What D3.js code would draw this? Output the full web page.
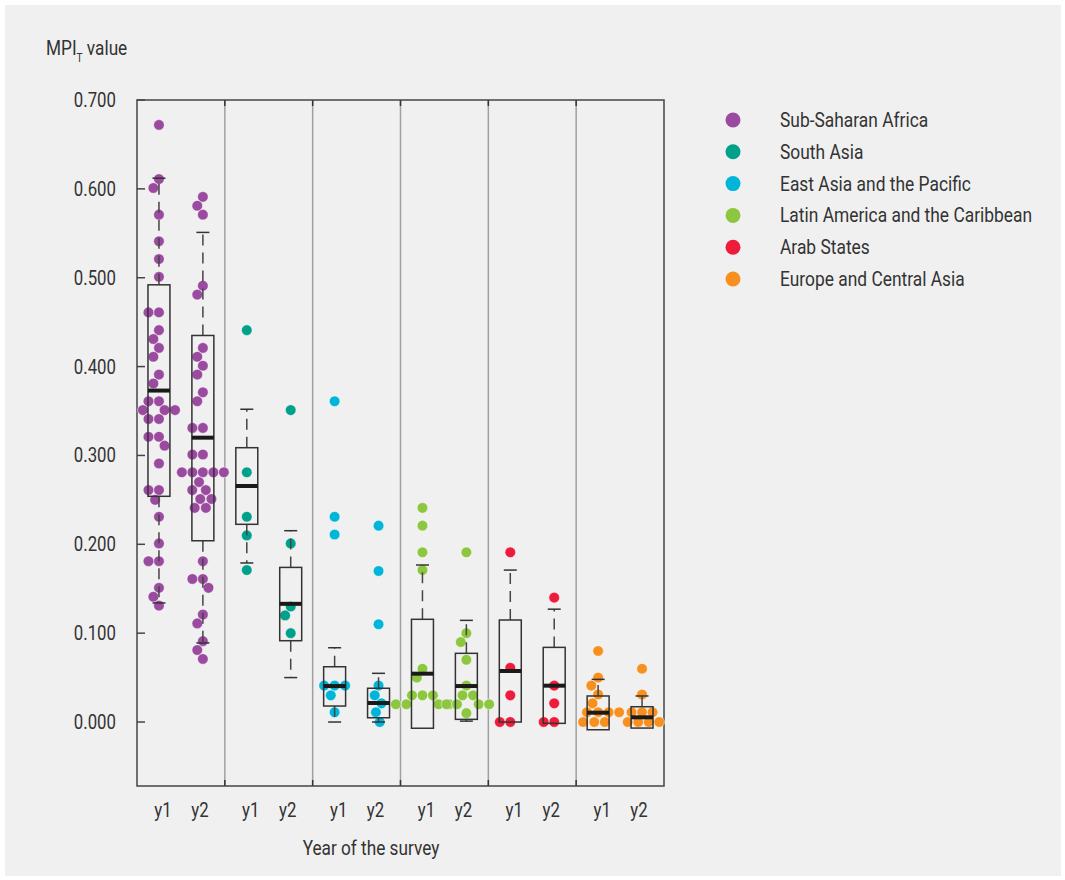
<!DOCTYPE html>
<html><head><meta charset="utf-8">
<script src="https://cdn.jsdelivr.net/npm/d3@7"></script>
<style>body{margin:0;background:#fff}</style>
</head><body><svg id="chart" width="1065" height="880"></svg>
<script>
// ---------------- DATA ----------------
const regions = ["Sub-Saharan Africa","South Asia","East Asia and the Pacific","Latin America and the Caribbean","Arab States","Europe and Central Asia"];
const regionColors = ["#9a4a9f","#00a08b","#00b6d8","#8dc63f","#ed1c3a","#f7901e"];
const surveys = ["y1","y2"];
const yTickValues = [0,0.1,0.2,0.3,0.4,0.5,0.6,0.7];

const ssaY1 = [0.672,0.611,0.601,0.571,0.541,0.521,0.501,0.461,0.461,0.441,0.431,0.421,0.411,0.391,0.381,0.361,0.361,0.351,0.351,0.351,0.341,0.341,0.321,0.321,0.311,0.291,0.261,0.261,0.250,0.231,0.201,0.181,0.181,0.151,0.141,0.131];
const ssaY2 = [0.591,0.581,0.571,0.491,0.481,0.421,0.411,0.401,0.391,0.371,0.361,0.331,0.331,0.301,0.301,0.281,0.281,0.281,0.281,0.281,0.270,0.261,0.261,0.251,0.251,0.241,0.241,0.181,0.161,0.161,0.151,0.121,0.111,0.091,0.081,0.071];
const saY1 = [0.441,0.281,0.231,0.210,0.171];
const saY2 = [0.351,0.201,0.130,0.120,0.100];
const eaY1 = [0.361,0.231,0.211,0.041,0.041,0.041,0.030,0.011];
const eaY2 = [0.221,0.170,0.110,0.041,0.030,0.021,0.011,0.000];
const lacY1 = [0.241,0.221,0.191,0.171,0.060,0.050,0.030,0.030,0.030,0.020,0.020,0.020,0.020];
const lacY2 = [0.191,0.100,0.090,0.070,0.041,0.030,0.030,0.020,0.020,0.020,0.020,0.010];
const arabY1 = [0.191,0.061,0.030,0.000,0.000];
const arabY2 = [0.140,0.041,0.021,0.000,0.000];
const ecaY1 = [0.080,0.050,0.041,0.031,0.021,0.011,0.011,0.011,0.011,0.000,0.000,0.000];
const ecaY2 = [0.060,0.031,0.011,0.011,0.011,0.000,0.000,0.000,0.000];

const groupPoints = [ssaY1,ssaY2,saY1,saY2,eaY1,eaY2,lacY1,lacY2,arabY1,arabY2,ecaY1,ecaY2];

// box statistics (12 groups, region-major, y1 then y2)
const boxLow    = [0.134,0.089,0.179,0.050,0.000,0.000,-0.007,0.001,0.000,-0.0015,-0.0087,-0.0068];
const boxQ1     = [0.254,0.204,0.2225,0.0915,0.018,0.0048,-0.007,0.003,0.000,-0.0015,-0.0087,-0.0068];
const boxMedian = [0.373,0.320,0.2656,0.133,0.0405,0.0214,0.0544,0.0405,0.0574,0.0409,0.0105,0.0053];
const boxQ3     = [0.492,0.435,0.3087,0.174,0.0622,0.038,0.1156,0.0773,0.1148,0.084,0.0293,0.0172];
const boxHigh   = [0.612,0.551,0.352,0.2153,0.0836,0.0548,0.1767,0.1144,0.171,0.127,0.048,0.0293];

// ---------------- FONT ----------------
function hasFont(name){
  const c=document.createElement('canvas').getContext('2d');
  const s='0123456789 Sub-Saharan Africa MWmw';
  c.font='20px monospace'; const a=c.measureText(s).width;
  c.font='20px "'+name+'", monospace'; const b=c.measureText(s).width;
  return Math.abs(a-b)>0.5;
}
let FONT = '"Liberation Sans Narrow"', SX = 1;
if(!hasFont("Liberation Sans Narrow")){ FONT = 'Roboto, "Liberation Sans", sans-serif'; SX = 0.84; }

// ---------------- LAYOUT ----------------
const svg = d3.select("#chart");
const X0 = 137, X1 = 664, Y0 = 100, Y1 = 786;
const textColor = "#333";

svg.append("rect").attr("x",5).attr("y",5).attr("width",1056).attr("height",871).attr("fill","#f0f0f0");

const keys = [];
regions.forEach((r,i)=>surveys.forEach(s=>keys.push(i+"|"+s)));
const x = d3.scaleBand().domain(keys).range([X0,X1]).padding(0);
const y = d3.scaleLinear().domain([-0.072,0.7]).range([Y1,Y0]);

function addText(parent, tx, ty, str, size, anchor, fill){
  const t = parent.append("text")
    .attr("transform","translate("+tx+","+ty+") scale("+SX+",1)")
    .attr("font-family",FONT).attr("font-size",size)
    .attr("text-anchor",anchor||"start").attr("fill",fill||textColor)
    .text(str);
  return t;
}

// separators between regions
const sepG = svg.append("g");
for(let i=1;i<regions.length;i++){
  const sx = x(i+"|y1");
  sepG.append("line").attr("x1",sx).attr("x2",sx).attr("y1",Y0).attr("y2",Y1)
    .attr("stroke","#a0a0a0").attr("stroke-width",1.5);
  sepG.append("line").attr("x1",sx).attr("x2",sx).attr("y1",Y1).attr("y2",Y1-6).attr("stroke","#333").attr("stroke-width",1.5);
  sepG.append("line").attr("x1",sx).attr("x2",sx).attr("y1",Y0).attr("y2",Y0+6).attr("stroke","#333").attr("stroke-width",1.5);
}

// frame
svg.append("rect").attr("x",X0).attr("y",Y0).attr("width",X1-X0).attr("height",Y1-Y0)
  .attr("fill","none").attr("stroke","#444").attr("stroke-width",1.5);

// y ticks (inward) and labels
yTickValues.forEach(v=>{
  svg.append("line").attr("x1",X0).attr("x2",X0+8).attr("y1",y(v)).attr("y2",y(v))
    .attr("stroke","#444").attr("stroke-width",1.5);
  addText(svg, 116, y(v)+7, d3.format(".3f")(v), 20, "end");
});

// ---------------- BEESWARM ----------------
const R = 5.3, D = 10.5;
function swarm(vals, cx){
  const sorted = vals.slice().sort((a,b)=>b-a);
  const placed = [];
  sorted.forEach(v=>{
    const py = y(v);
    const cands = [0];
    placed.forEach(p=>{
      const dy = Math.abs(p.y-py);
      if(dy < D){ const dx = Math.sqrt(D*D-dy*dy); cands.push(p.dx-dx, p.dx+dx); }
    });
    const ok = cands.filter(c=>placed.every(p=>{
      const ddx=p.dx-c, ddy=p.y-py; return ddx*ddx+ddy*ddy >= D*D-1e-6;
    }));
    ok.sort((a,b)=> (Math.abs(a)-Math.abs(b)) || (a-b));
    placed.push({dx:ok[0], y:py, v:v});
  });
  return placed.map(p=>({x:cx+p.dx, y:p.y}));
}

const dotsG = svg.append("g");
keys.forEach((k,gi)=>{
  const ri = +k.split("|")[0];
  const cx = x(k)+x.bandwidth()/2;
  const pts = swarm(groupPoints[gi], cx);
  dotsG.selectAll(null).data(pts).enter().append("circle")
    .attr("cx",d=>d.x).attr("cy",d=>d.y).attr("r",R)
    .attr("fill",regionColors[ri]).attr("stroke","#fff").attr("stroke-width",0.6).attr("stroke-opacity",0.8);
});

// ---------------- BOXES ----------------
const boxG = svg.append("g");
const bw = x.bandwidth()*0.5, capW = 13;
keys.forEach((k,gi)=>{
  const cx = x(k)+x.bandwidth()/2;
  const lo=boxLow[gi], q1=boxQ1[gi], md=boxMedian[gi], q3=boxQ3[gi], hi=boxHigh[gi];
  boxG.append("line").attr("x1",cx).attr("x2",cx).attr("y1",y(q3)).attr("y2",y(hi))
    .attr("stroke","#444").attr("stroke-width",1.5).attr("stroke-dasharray","11,7");
  boxG.append("line").attr("x1",cx-capW/2).attr("x2",cx+capW/2).attr("y1",y(hi)).attr("y2",y(hi))
    .attr("stroke","#333").attr("stroke-width",1.5);
  if(y(lo)-y(q1) > 1){
    boxG.append("line").attr("x1",cx).attr("x2",cx).attr("y1",y(q1)).attr("y2",y(lo))
      .attr("stroke","#444").attr("stroke-width",1.5).attr("stroke-dasharray","11,7");
    boxG.append("line").attr("x1",cx-capW/2).attr("x2",cx+capW/2).attr("y1",y(lo)).attr("y2",y(lo))
      .attr("stroke","#333").attr("stroke-width",1.5);
  }
  boxG.append("rect").attr("x",cx-bw/2).attr("y",y(q3)).attr("width",bw).attr("height",y(q1)-y(q3))
    .attr("fill","none").attr("stroke","#333").attr("stroke-width",1.5);
  boxG.append("line").attr("x1",cx-bw/2).attr("x2",cx+bw/2).attr("y1",y(md)).attr("y2",y(md))
    .attr("stroke","#1a1a1a").attr("stroke-width",4);
});

// ---------------- X LABELS ----------------
keys.forEach(k=>{
  const s = k.split("|")[1];
  const cx = x(k)+x.bandwidth()/2 + (s==="y1"?4:-3);
  addText(svg, cx, 817, s, 20, "middle");
});
addText(svg, 371, 855, "Year of the survey", 20.5, "middle");

// ---------------- Y TITLE ----------------
const title = svg.append("text")
  .attr("transform","translate(46,55) scale("+SX+",1)")
  .attr("font-family",FONT).attr("font-size",20.5).attr("fill",textColor);
title.append("tspan").text("MPI");
title.append("tspan").attr("font-size",12).attr("dy",7).text("T");
title.append("tspan").attr("dy",-7).text(" value");

// ---------------- LEGEND ----------------
const legG = svg.append("g");
regions.forEach((r,i)=>{
  const ly = 120 + i*31.8;
  legG.append("circle").attr("cx",733).attr("cy",ly).attr("r",7.5).attr("fill",regionColors[i]);
  addText(legG, 780, ly+7, r, 20.7, "start");
});
</script>
</body></html>
